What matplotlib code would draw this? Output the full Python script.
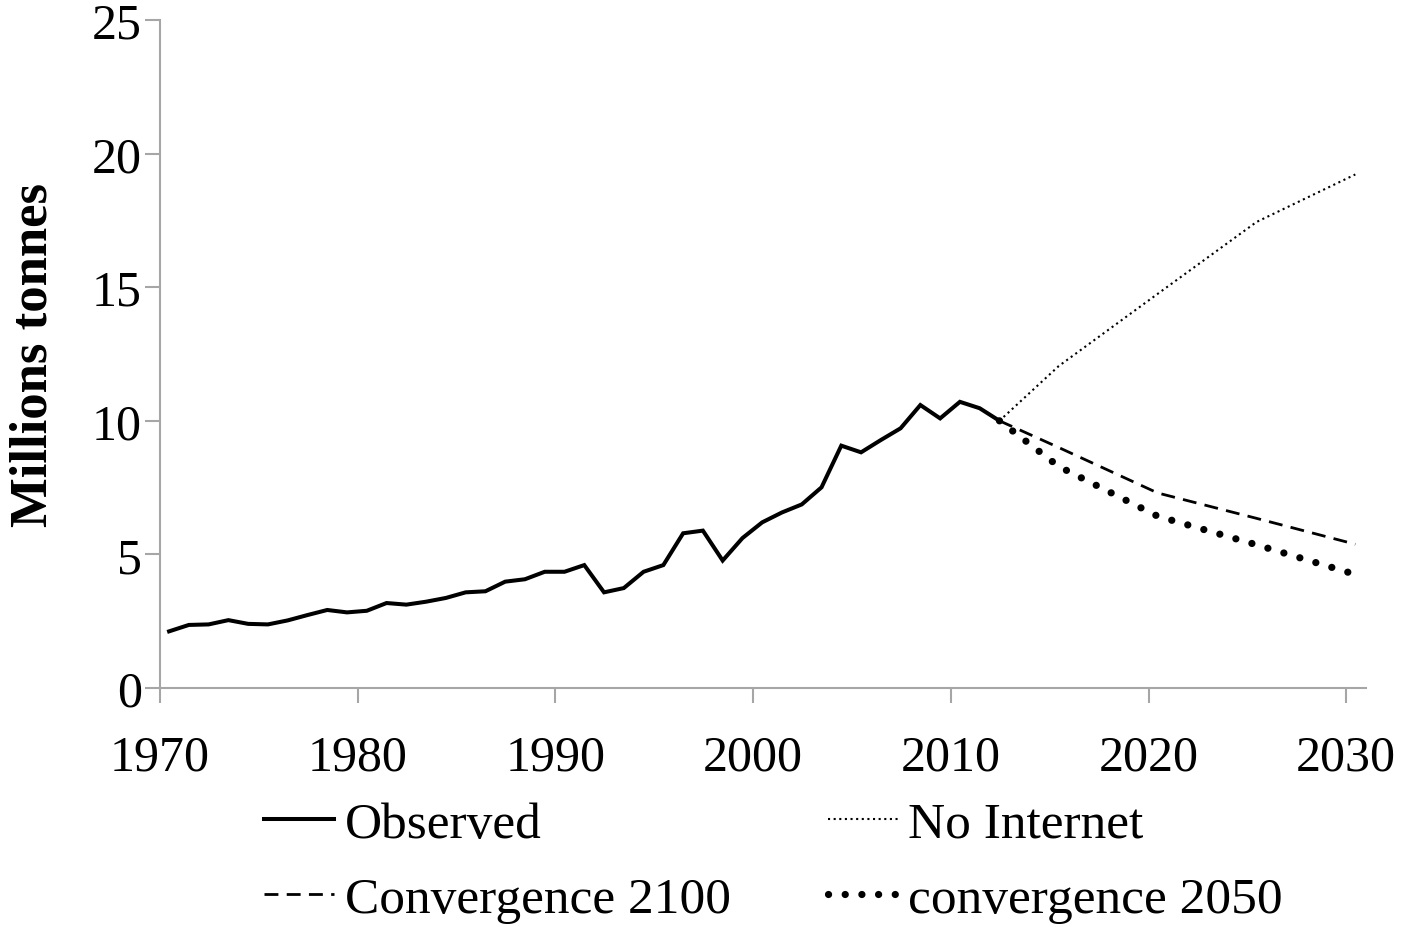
import matplotlib
matplotlib.use("Agg")
import matplotlib.pyplot as plt

# ---- data ----
obs_years = list(range(1970, 2013))
observed = [2.12, 2.36, 2.38, 2.54, 2.40, 2.38, 2.53, 2.73, 2.92, 2.83,
            2.89, 3.18, 3.12, 3.23, 3.37, 3.58, 3.62, 3.98, 4.07, 4.35,
            4.35, 4.60, 3.58, 3.74, 4.35, 4.60, 5.79, 5.89, 4.77, 5.61,
            6.20, 6.57, 6.87, 7.51, 9.07, 8.82, 9.28, 9.72, 10.59, 10.09,
            10.71, 10.47, 10.00]

proj_years = [2012, 2015, 2020, 2025, 2030]
no_internet = [10.0, 12.05, 14.75, 17.44, 19.22]
conv_2100 = [10.0, 9.00, 7.30, 6.35, 5.38]
conv_2050 = [10.0, 8.29, 6.43, 5.36, 4.25]

x_ticks = [1970, 1980, 1990, 2000, 2010, 2020, 2030]
y_ticks = [0, 5, 10, 15, 20, 25]

# ---- style ----
mid = 0.46  # values plotted at mid-year
FONT = "Liberation Serif"
plt.rcParams["font.family"] = [FONT, "DejaVu Serif"]

fig = plt.figure(figsize=(14.09, 9.28), dpi=100)
ax = fig.add_axes([160 / 1409, 1 - 689 / 928, (1366 - 160) / 1409, (689 - 21) / 928])

ox = [y + mid for y in obs_years]
px = [y + mid for y in proj_years]

l1, = ax.plot(ox, observed, color="black", lw=2.9, solid_joinstyle="miter", label="Observed")
l2, = ax.plot(px, no_internet, color="black", lw=1.5, linestyle=(0, (1, 1.7)), label="No Internet")
l3, = ax.plot(px, conv_2100, color="black", lw=2.0, linestyle=(0, (5, 3)), label="Convergence 2100")
l4, = ax.plot(px, conv_2050, color="black", lw=5.2, linestyle=(0, (0.01, 2.3)),
              dash_capstyle="round", label="convergence 2050")

ax.set_xlim(1970, 2031)
ax.set_ylim(0, 25)
ax.set_xticks(x_ticks)
ax.set_xticklabels([str(t) for t in x_ticks])
ax.set_yticks(y_ticks)
ax.set_yticklabels([str(t) for t in y_ticks])

grey = "#A6A6A6"
for s in ["top", "right"]:
    ax.spines[s].set_visible(False)
for s in ["left", "bottom"]:
    ax.spines[s].set_color(grey)
    ax.spines[s].set_linewidth(1.5)
ax.tick_params(axis="both", direction="out", length=11, width=1.5, color=grey,
               labelsize=36, labelcolor="black")
ax.tick_params(axis="x", pad=22)
ax.tick_params(axis="y", pad=2)

ax.set_ylabel("Millions tonnes", fontsize=38, fontweight="bold")
ax.yaxis.set_label_coords(-0.085, 0.5)

handles = [l1, l3, l2, l4]
fig.legend(handles=handles, labels=[h.get_label() for h in handles],
           loc="upper left", bbox_to_anchor=(264 / 1409, 1 - 802 / 928),
           ncol=2, frameon=False, fontsize=37, handlelength=1.37,
           handletextpad=0.2, columnspacing=1.89, labelspacing=0.55,
           borderpad=0, borderaxespad=0)

fig.savefig("out.png", dpi=100)
